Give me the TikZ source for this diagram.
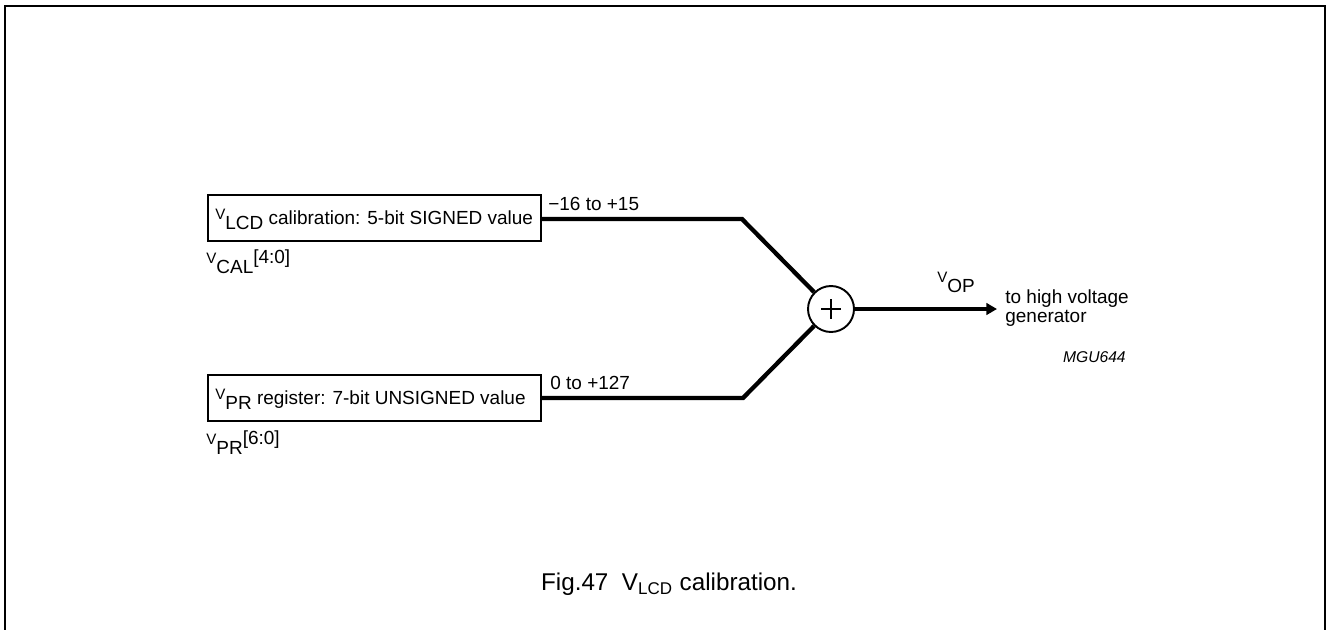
\documentclass[tikz,border=0pt]{standalone}
\usepackage{fontspec}
\setmainfont{Liberation Sans}
\usetikzlibrary{arrows.meta,calc}
\newcommand{\lowsub}[2]{{\fontsize{8.6}{10}\selectfont\raisebox{2.8pt}{#1}}\raisebox{-2.8pt}{#2}}
\begin{document}
\begin{tikzpicture}[x=0.02cm,y=-0.02cm,
  txt/.style={font=\fontsize{10.8}{11}\selectfont, inner sep=0pt},
  regbox/.style={draw, line width=0.9pt, rectangle, inner sep=0pt, txt},
  sig/.style={line width=2.45pt, line join=miter},
  sumnode/.style={draw, circle, line width=1.1pt, minimum size=0.92cm, inner sep=0pt}]
\useasboundingbox (0,0) rectangle (1327,629);
\draw[line width=0.7pt] (5,660) -- (5,6) -- (1325,6) -- (1325,660);

\node[regbox, minimum width=6.66cm, minimum height=0.92cm] (b1) at (374.5,218) {};
\node[txt, anchor=west] (t1) at (215,219) {\lowsub{V}{LCD} calibration: 5-bit SIGNED value};
\node[regbox, minimum width=6.66cm, minimum height=0.92cm] (b2) at (374.5,398) {};
\node[txt, anchor=west] (t2) at (215,399) {\lowsub{V}{PR} register: 7-bit UNSIGNED value};

\node[txt, anchor=west] (l1) at (206,262) {\lowsub{V}{CAL}\raisebox{2.8pt}{[4:0]}};
\node[txt, anchor=west] (l2) at (206,443) {\lowsub{V}{PR}\raisebox{2.8pt}{[6:0]}};

\node[txt, anchor=west] (r1) at (548,204) {−16 to +15};
\node[txt, anchor=west] (r2) at (550,383) {0 to +127};

\node[sumnode] (s) at (831,309) {};
\draw[line width=0.8pt] ($(s.center)+(-10,0)$) -- ($(s.center)+(10,0)$);
\draw[line width=0.8pt] ($(s.center)+(0,-10)$) -- ($(s.center)+(0,10)$);
\coordinate (k1) at (742,219);
\coordinate (k2) at (743,398);
\coordinate (out) at (997,309);
\draw[sig] (b1.east |- k1) -- (k1) -- (s.135);
\draw[sig] (b2.east |- k2) -- (k2) -- (s.225);
\draw[sig, -{Triangle[length=6pt,width=6.5pt]}] (s.east) -- (out);

\node[txt, anchor=south] (vop) at (956,293) {\lowsub{V}{OP}};
\node[txt, anchor=west, align=left] (dest) at (1005,308) {to high voltage\\generator};
\node[font=\fontsize{8.9}{10}\selectfont\itshape, inner sep=0pt, anchor=east] (code) at (1126,357) {MGU644};

\node[font=\fontsize{13.8}{15}\selectfont, inner sep=0pt] (cap) at (669,584) {Fig.47\ \ V\textsubscript{LCD} calibration.};
\end{tikzpicture}
\end{document}
